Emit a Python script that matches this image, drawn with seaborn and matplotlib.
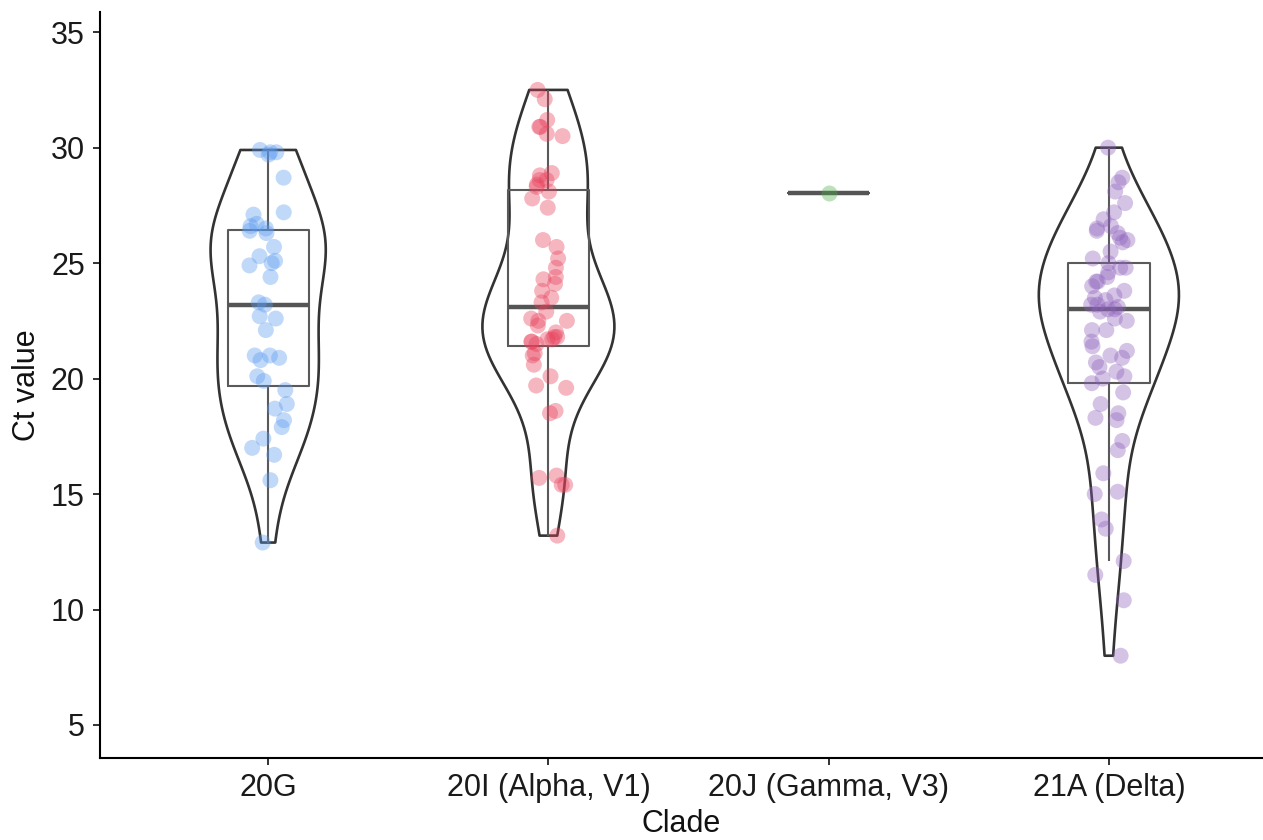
import numpy as np
import pandas as pd
import matplotlib
matplotlib.use("Agg")
import matplotlib.pyplot as plt
import seaborn as sns

clades = ["20G", "20I (Alpha, V1)", "20J (Gamma, V3)", "21A (Delta)"]
colors = ["#5B9BF0", "#E8405A", "#4DAF4A", "#8E62BD"]

ct_20G = [29.8, 29.8, 29.9, 29.7, 28.7, 27.2, 27.1, 26.7, 26.6, 26.5, 26.4, 26.3,
          25.7, 25.3, 25.1, 25.0, 24.9, 24.4, 23.3, 23.2, 22.7, 22.6, 22.1, 21.0,
          21.0, 20.9, 20.8, 20.1, 19.9, 19.5, 18.9, 18.7, 18.2, 17.9, 17.4, 17.0,
          16.7, 15.6, 12.9]
ct_20I = [32.5, 32.1, 31.2, 30.9, 30.9, 30.6, 30.5, 28.9, 28.8, 28.6, 28.6, 28.4,
          28.3, 28.1, 27.8, 27.4, 26.0, 25.7, 25.2, 24.8, 24.4, 24.3, 24.1, 23.8,
          23.5, 23.3, 22.9, 22.6, 22.5, 22.5, 22.3, 22.0, 21.8, 21.8, 21.7, 21.7,
          21.6, 21.6, 21.5, 21.1, 21.0, 20.6, 20.1, 19.7, 19.6, 18.6, 18.5, 15.8,
          15.7, 15.4, 15.4, 13.2]
ct_20J = [28.05]
ct_21A = [30.0, 28.7, 28.5, 28.1, 27.6, 27.2, 26.9, 26.6, 26.5, 26.4, 26.3, 26.1,
          26.0, 25.9, 25.5, 25.2, 25.0, 24.8, 24.8, 24.6, 24.4, 24.2, 24.2, 24.0,
          23.8, 23.6, 23.5, 23.4, 23.2, 23.2, 23.1, 23.0, 23.0, 22.9, 22.6, 22.5,
          22.1, 22.1, 21.6, 21.4, 21.2, 21.0, 20.9, 20.7, 20.5, 20.3, 20.1, 20.0,
          19.8, 19.4, 18.9, 18.5, 18.3, 18.2, 17.3, 16.9, 15.9, 15.1, 15.0, 13.9,
          13.5, 12.1, 11.5, 10.4, 8.0]

y_ticks = [5, 10, 15, 20, 25, 30, 35]

df = pd.DataFrame({
    "Clade": [clades[0]] * len(ct_20G) + [clades[1]] * len(ct_20I)
             + [clades[2]] * len(ct_20J) + [clades[3]] * len(ct_21A),
    "Ct value": ct_20G + ct_20I + ct_20J + ct_21A,
})

sns.set_theme(style="ticks")
plt.rcParams["font.family"] = ["Liberation Sans", "DejaVu Sans"]

fig = plt.figure(figsize=(12.63, 8.4), dpi=100)
ax = fig.add_axes([0.0792, 0.0976, 0.9208, 0.888])

np.random.seed(3)
sns.stripplot(data=df, x="Clade", y="Ct value", hue="Clade", order=clades,
              hue_order=clades, palette=colors, jitter=0.07, size=11.5,
              alpha=0.38, linewidth=0, legend=False, ax=ax)

vdf = df[df["Clade"] != clades[2]]
sns.violinplot(data=vdf, x="Clade", y="Ct value", order=clades, fill=False,
               inner=None, cut=0, density_norm="area", width=0.5,
               bw_adjust=0.9, color="#333333", linewidth=1.9, ax=ax)

sns.boxplot(data=df, x="Clade", y="Ct value", order=clades, fill=False,
            width=0.29, showfliers=False, showcaps=False, color="#5a5a5a",
            linewidth=1.5, medianprops=dict(color="#555555", linewidth=3.2),
            ax=ax)

ax.set_xlim(-0.6, 3.55)
ax.set_ylim(3.57, 35.87)
ax.set_yticks(y_ticks)
ax.set_xlabel("Clade", fontsize=22, color="#111111", labelpad=4)
ax.set_ylabel("Ct value", fontsize=22, color="#111111", labelpad=6)
ax.tick_params(axis="both", labelsize=22, labelcolor="#1a1a1a", length=5,
               width=1.3, color="#222222", pad=6)
for s in ["left", "bottom"]:
    ax.spines[s].set_linewidth(1.5)
    ax.spines[s].set_color("black")
sns.despine(ax=ax)

fig.savefig("out.png", dpi=100)
